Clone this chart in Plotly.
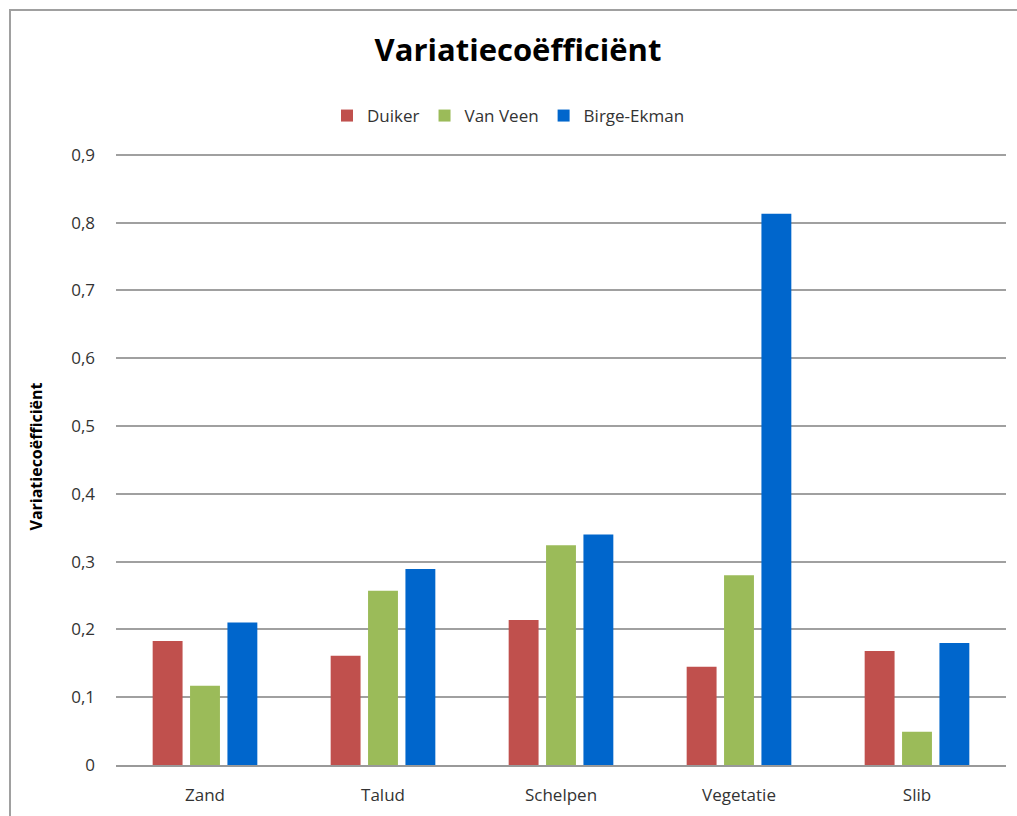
import plotly.graph_objects as go

categories = ["Zand", "Talud", "Schelpen", "Vegetatie", "Slib"]
duiker = [0.183, 0.161, 0.214, 0.145, 0.168]
van_veen = [0.117, 0.257, 0.324, 0.280, 0.049]
birge_ekman = [0.210, 0.289, 0.340, 0.813, 0.180]
series_names = ["Duiker", "Van Veen", "Birge-Ekman"]
colors = ["#C0504D", "#9BBB59", "#0066CC"]
tick_vals = [0, 0.1, 0.2, 0.3, 0.4, 0.5, 0.6, 0.7, 0.8, 0.9]
tick_text = ["0", "0,1", "0,2", "0,3", "0,4", "0,5", "0,6", "0,7", "0,8", "0,9"]

FONT = "Open Sans, Liberation Sans, sans-serif"

fig = go.Figure()
for name, vals, c in zip(series_names, [duiker, van_veen, birge_ekman], colors):
    fig.add_trace(go.Bar(x=categories, y=vals, name=name, marker_color=c,
                         marker_line_width=0))

W, H = 1017, 816
L, R, T, B = 116, 11, 148, 51
pw, ph = W - L - R, H - T - B

fig.update_layout(
    width=W, height=H,
    margin=dict(l=L, r=R, t=T, b=B, autoexpand=False),
    paper_bgcolor="white", plot_bgcolor="white",
    barmode="group", bargap=0.37, bargroupgap=0.2,
    title=dict(text="<b>Variatiecoëfficiënt</b>", x=518 / W, xref="container",
               xanchor="center", y=1 - 50 / H, yref="container", yanchor="middle",
               font=dict(family=FONT, size=31, color="black")),
    legend=dict(orientation="h", x=0.5, xanchor="center", xref="container",
                y=1 - 116 / H, yref="container", yanchor="middle",
                font=dict(family=FONT, size=17, color="#333"),
                itemwidth=30, traceorder="normal"),
    font=dict(family=FONT, size=17, color="#333"),
    xaxis=dict(showgrid=False, showline=True, linecolor="#999", linewidth=2,
               ticks="", tickfont=dict(size=17, color="#333"), ticklabelstandoff=14),
    yaxis=dict(range=[0, 0.91], tickvals=tick_vals, ticktext=tick_text,
               showgrid=True, gridcolor="#A0A0A0", gridwidth=1.5,
               zeroline=False, showline=False, ticks="",
               tickfont=dict(size=17, color="#333"), ticklabelstandoff=20,
               title=dict(text="<b>Variatiecoëfficiënt</b>", standoff=24,
                          font=dict(size=16, color="black"))),
    showlegend=True,
)

# chart frame (top and left edges visible)
fig.add_shape(type="rect", xref="paper", yref="paper",
              x0=(10 - L) / pw, x1=(1030 - L) / pw,
              y0=-(830 - (H - B)) / ph, y1=1 + (T - 10) / ph,
              line=dict(color="#A0A0A0", width=2), fillcolor="rgba(0,0,0,0)",
              layer="below")

fig.write_html("out.html", config={"displayModeBar": False},
               post_script="document.body.style.margin='0';document.body.style.overflow='hidden';")
